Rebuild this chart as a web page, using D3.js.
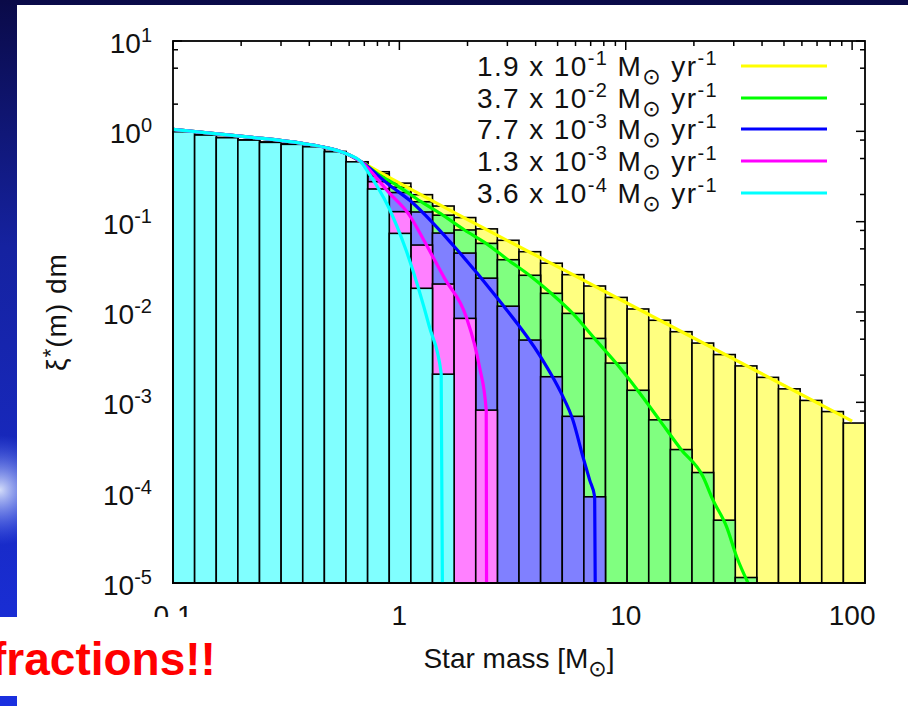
<!DOCTYPE html>
<html>
<head>
<meta charset="utf-8">
<script src="https://cdn.jsdelivr.net/npm/d3@7"></script>
<style>
  html, body { margin: 0; padding: 0; background: #10106a; }
  svg { display: block; }
  text { font-family: "Liberation Sans", Arial, "DejaVu Sans", sans-serif; }
</style>
</head>
<body>
<div id="chart"></div>
<script>
// mass bins are even in log m, from 0.1 to the right edge of the plot
const massMin = 0.1, massMax = 114, nBins = 32;

// bar heights per bin, xi*(m) dm  (shared low-mass part first)
const commonBars = [0.99, 0.91, 0.85, 0.80, 0.755, 0.718, 0.675, 0.595, 0.46];
const yellowBars = [0.357, 0.267, 0.199, 0.149, 0.111, 0.0832, 0.0622, 0.0465, 0.0347, 0.0259,
  0.0194, 0.0145, 0.0108, 0.0081, 0.00605, 0.00453, 0.00338, 0.00253, 0.00189, 0.00141,
  0.00105, 0.00079, 0.00059];
const greenBars = [0.339, 0.241, 0.166, 0.118, 0.0809, 0.0575, 0.0379, 0.0255, 0.0161, 0.00965,
  0.0051, 0.00272, 0.00136, 0.00064, 0.0003, 0.000167, 0.0000496, 0.0000115];
const blueBars = [0.320, 0.210, 0.128, 0.0748, 0.0449, 0.0237, 0.0116, 0.00489, 0.00192, 0.0007, 0.00009];
const pinkBars = [0.277, 0.129, 0.0551, 0.0204, 0.0085, 0.00082];
const cyanBars = [0.23, 0.0742, 0.0183, 0.00205];

// curves, [mass, value]
const headCurve = [[0.1, 1.05], [0.149, 0.95], [0.224, 0.858], [0.372, 0.736], [0.49, 0.648], [0.601, 0.547], [0.677, 0.461]];
const yellowCurve = [[7.67, 0.0181], [100, 0.00062]];
const greenCurve = [[0.803, 0.339], [1.0, 0.2416], [1.247, 0.1665], [1.554, 0.1183], [1.94, 0.0809],
  [2.415, 0.0575], [3.012, 0.0379], [3.752, 0.0255], [4.682, 0.0161], [5.834, 0.00965], [7.27, 0.0051],
  [9.06, 0.00272], [11.3, 0.001354], [14.08, 0.00064], [17.55, 0.000301], [21.9, 0.000152],
  [24.3, 0.0000826], [27.9, 0.0000418], [30.9, 0.0000195], [34.7, 0.00001]];
const blueCurve = [[0.903, 0.254], [1.107, 0.1734], [1.751, 0.0527], [2.679, 0.01473], [4.207, 0.00319],
  [5.194, 0.001255], [5.845, 0.000635], [6.47, 0.000249], [6.93, 0.0001375], [7.29, 0.0000898], [7.33, 0.00001]];
const pinkCurve = [[0.903, 0.2073], [1.107, 0.1183], [1.317, 0.0551], [1.581, 0.0237], [1.973, 0.00885],
  [2.259, 0.00247], [2.419, 0.00082], [2.427, 0.00001]];
const cyanCurve = [[0.708, 0.392], [0.894, 0.1462], [1.07, 0.0485], [1.357, 0.00686], [1.53, 0.00209], [1.549, 0.00001]];

// legend
const rates = ["1.9", "3.7", "7.7", "1.3", "3.6"];
const rateExps = ["-1", "-2", "-3", "-3", "-4"];

const xTickValues = [0.1, 1, 10, 100];
const xTickLabels = ["0.1", "1", "10", "100"];
const yTickExps = [-5, -4, -3, -2, -1, 0, 1];

const fills = ["#ffff80", "#80ff80", "#8080ff", "#ff80ff", "#80ffff"];
const strokes = ["#ffff00", "#00ff00", "#0000ff", "#ff00ff", "#00ffff"];

const series = [
  { bars: commonBars.concat(yellowBars), curve: headCurve.concat(yellowCurve) },
  { bars: commonBars.concat(greenBars), curve: headCurve.concat(greenCurve) },
  { bars: commonBars.concat(blueBars), curve: headCurve.concat(blueCurve) },
  { bars: commonBars.concat(pinkBars), curve: headCurve.concat(pinkCurve) },
  { bars: commonBars.concat(cyanBars), curve: headCurve.concat(cyanCurve) }
];

const W = 908, H = 706;
const plot = { left: 173, right: 865, top: 41, bottom: 583 };

const svg = d3.select("#chart").append("svg")
  .attr("width", W).attr("height", H)
  .attr("viewBox", `0 0 ${W} ${H}`);

// slide background
const defs = svg.append("defs");
const bg = defs.append("linearGradient").attr("id", "bg").attr("x1", 0).attr("y1", 0).attr("x2", 0).attr("y2", 1);
bg.append("stop").attr("offset", "0%").attr("stop-color", "#0a0a48");
bg.append("stop").attr("offset", "35%").attr("stop-color", "#1522a0");
bg.append("stop").attr("offset", "100%").attr("stop-color", "#1a30e0");
const glow = defs.append("radialGradient").attr("id", "glow");
glow.append("stop").attr("offset", "0%").attr("stop-color", "#e8f0ff").attr("stop-opacity", 0.9);
glow.append("stop").attr("offset", "100%").attr("stop-color", "#6080ff").attr("stop-opacity", 0);
defs.append("clipPath").attr("id", "plotclip")
  .append("rect")
  .attr("x", plot.left).attr("y", plot.top)
  .attr("width", plot.right - plot.left).attr("height", plot.bottom - plot.top);

svg.append("rect").attr("width", W).attr("height", H).attr("fill", "url(#bg)");
svg.append("circle").attr("cx", 0).attr("cy", 490).attr("r", 55).attr("fill", "url(#glow)");

// white chart panel
svg.append("rect").attr("x", 17).attr("y", 5).attr("width", W - 17).attr("height", H - 5).attr("fill", "#fff");

const x = d3.scaleLog().domain([massMin, massMax]).range([plot.left, plot.right]);
const y = d3.scaleLog().domain([1e-5, 10]).range([plot.bottom, plot.top]);

const logStep = (Math.log10(massMax) - Math.log10(massMin)) / nBins;
const edges = d3.range(nBins + 1).map(i => massMin * Math.pow(10, i * logStep));

// ticks (behind the bars, pointing inward)
const xMinor = [];
[0.1, 1, 10].forEach(d => d3.range(2, 10).forEach(n => { if (n * d < massMax) xMinor.push(n * d); }));
const yMinor = [];
yTickExps.slice(0, -1).forEach(k => [2, 5, 8].forEach(n => yMinor.push(n * Math.pow(10, k))));

const ticks = svg.append("g").attr("stroke", "#000").attr("stroke-width", 1.5);
const tickSet = [
  ...xTickValues.map(v => ({ v, len: 9, axis: "x" })),
  ...xMinor.map(v => ({ v, len: 5, axis: "x" })),
  ...yTickExps.map(k => ({ v: Math.pow(10, k), len: 9, axis: "y" })),
  ...yMinor.map(v => ({ v, len: 5, axis: "y" }))
];
tickSet.forEach(t => {
  if (t.axis === "x") {
    const px = x(t.v);
    ticks.append("line").attr("x1", px).attr("x2", px).attr("y1", plot.top).attr("y2", plot.top + t.len);
    ticks.append("line").attr("x1", px).attr("x2", px).attr("y1", plot.bottom).attr("y2", plot.bottom - t.len);
  } else {
    const py = y(t.v);
    ticks.append("line").attr("y1", py).attr("y2", py).attr("x1", plot.left).attr("x2", plot.left + t.len);
    ticks.append("line").attr("y1", py).attr("y2", py).attr("x1", plot.right).attr("x2", plot.right - t.len);
  }
});

// histograms, back to front
series.forEach((s, si) => {
  const bars = s.bars.map((v, i) => ({ i, v })).filter(d => d.v != null && d.v > 1e-5);
  svg.append("g")
    .selectAll("rect")
    .data(bars)
    .enter()
    .append("rect")
    .attr("x", d => x(edges[d.i]))
    .attr("width", d => x(edges[d.i + 1]) - x(edges[d.i]))
    .attr("y", d => y(d.v))
    .attr("height", d => y(1e-5) - y(d.v))
    .attr("fill", fills[si])
    .attr("stroke", "#000")
    .attr("stroke-width", 1.6);
});

// curves on top
const line = d3.line()
  .x(d => x(d[0]))
  .y(d => y(d[1]))
  .curve(d3.curveMonotoneX);

svg.append("g")
  .attr("clip-path", "url(#plotclip)")
  .selectAll("path")
  .data(series)
  .enter()
  .append("path")
  .attr("d", d => line(d.curve))
  .attr("fill", "none")
  .attr("stroke", (d, i) => strokes[i])
  .attr("stroke-width", 3.2)
  .attr("stroke-linejoin", "round");

// border
svg.append("rect")
  .attr("x", plot.left).attr("y", plot.top)
  .attr("width", plot.right - plot.left).attr("height", plot.bottom - plot.top)
  .attr("fill", "none").attr("stroke", "#000").attr("stroke-width", 1.8);

const fontSize = 28, supSize = 20;

// y tick labels 10^k
yTickExps.forEach(k => {
  const t = svg.append("text")
    .attr("x", 152).attr("y", y(Math.pow(10, k)) + 12)
    .attr("text-anchor", "end")
    .attr("font-size", fontSize)
    .attr("fill", "#111");
  t.append("tspan").text("10");
  t.append("tspan").attr("dy", -11).attr("font-size", supSize).text(k);
});

// x tick labels
xTickValues.forEach((v, i) => {
  svg.append("text")
    .attr("x", x(v)).attr("y", 625)
    .attr("text-anchor", "middle")
    .attr("font-size", fontSize)
    .attr("fill", "#111")
    .text(xTickLabels[i]);
});

// axis titles
const xt = svg.append("text")
  .attr("x", (plot.left + plot.right) / 2).attr("y", 668)
  .attr("text-anchor", "middle")
  .attr("font-size", fontSize).attr("fill", "#111");
xt.append("tspan").text("Star mass [M");
xt.append("tspan").attr("dy", 8).attr("font-size", 22).attr("font-family", "DejaVu Sans").text("\u2299");
xt.append("tspan").attr("dy", -8).text("]");

const yt = svg.append("text")
  .attr("transform", `translate(66, ${(plot.top + plot.bottom) / 2}) rotate(-90)`)
  .attr("text-anchor", "middle")
  .attr("font-size", fontSize).attr("fill", "#111")
  .attr("letter-spacing", 1);
yt.append("tspan").text("\u03be");
yt.append("tspan").attr("dy", -8).attr("font-size", 22).text("*");
yt.append("tspan").attr("dy", 8).text("(m) dm");

// legend
const legendY = [66, 98, 129, 161, 193];
rates.forEach((r, i) => {
  const t = svg.append("text")
    .attr("x", 718).attr("y", legendY[i] + 10)
    .attr("text-anchor", "end")
    .attr("font-size", fontSize).attr("fill", "#111")
    .attr("letter-spacing", 1.4);
  t.append("tspan").text(`${r} x 10`);
  t.append("tspan").attr("dy", -11).attr("font-size", supSize).text(rateExps[i]);
  t.append("tspan").attr("dy", 11).text(" M");
  t.append("tspan").attr("dy", 8).attr("font-size", 22).attr("font-family", "DejaVu Sans").text("\u2299");
  t.append("tspan").attr("dy", -8).text(" yr");
  t.append("tspan").attr("dy", -11).attr("font-size", supSize).text("-1");
  svg.append("line")
    .attr("x1", 741).attr("x2", 827)
    .attr("y1", legendY[i]).attr("y2", legendY[i])
    .attr("stroke", strokes[i]).attr("stroke-width", 2.8);
});

// slide text box over the lower left
svg.append("rect").attr("x", 0).attr("y", 617).attr("width", 260).attr("height", 79).attr("fill", "#fff");
svg.append("text")
  .attr("x", -9).attr("y", 675)
  .attr("font-size", 46).attr("font-weight", "bold")
  .attr("fill", "#ff0000")
  .text("fractions!!");
</script>
</body>
</html>
